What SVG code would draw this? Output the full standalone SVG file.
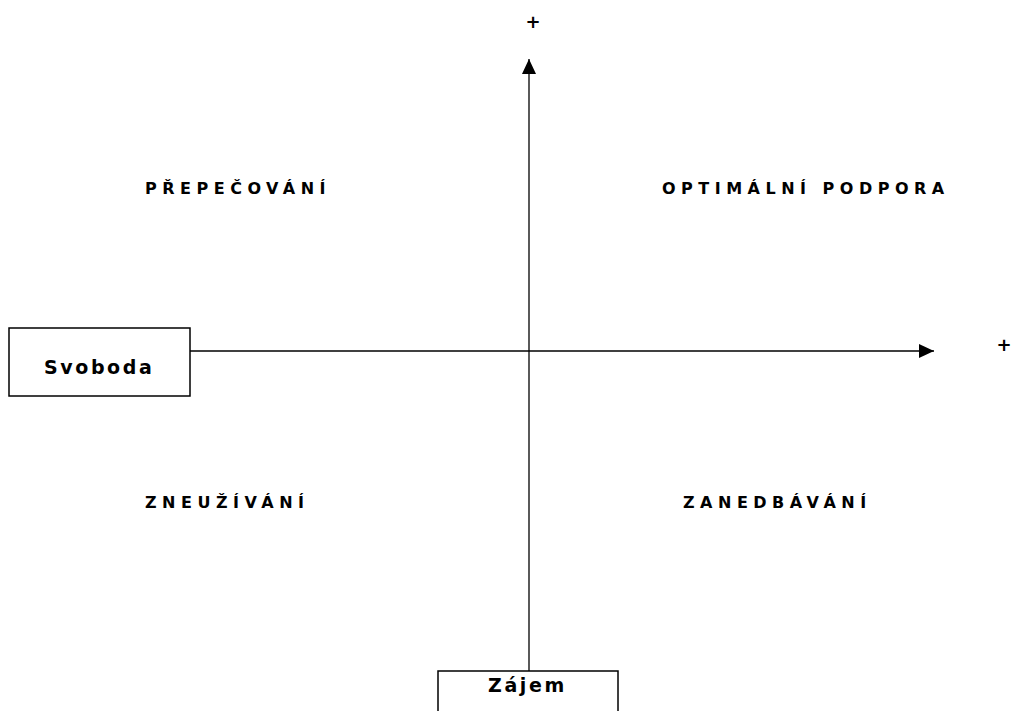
<svg xmlns="http://www.w3.org/2000/svg" width="1013" height="711" viewBox="0 0 1013 711">
<style>
text{font-family:"DejaVu Sans",Verdana,sans-serif;font-weight:bold;fill:#000}
.q{font-size:16px;letter-spacing:5.5px}
.b{font-size:19px;letter-spacing:2.6px}
.p{font-size:18px}
.box{fill:#fff;stroke:#000;stroke-width:1.5}
.ax{stroke:#000;stroke-width:1.3;fill:none}
</style>
<defs>
<marker id="ah" viewBox="0 0 10 10" refX="10" refY="5" markerWidth="15" markerHeight="14" markerUnits="userSpaceOnUse" orient="auto" preserveAspectRatio="none">
<path d="M0,0 L10,5 L0,10 Z" fill="#000"/>
</marker>
</defs>
<g id="connectors">
<line class="ax" x1="529" y1="671" x2="529" y2="59" marker-end="url(#ah)"/>
<line class="ax" x1="190" y1="351" x2="934" y2="351" marker-end="url(#ah)"/>
</g>
<g id="svoboda">
<rect class="box" x="9" y="328" width="181" height="68"/>
<text class="b" x="44" y="374">Svoboda</text>
</g>
<g id="zajem">
<rect class="box" x="438" y="671" width="180" height="45"/>
<text class="b" x="488" y="692">Zájem</text>
</g>
<g id="labels">
<text class="p" x="533" y="28" text-anchor="middle">+</text>
<text class="p" x="1004" y="351" text-anchor="middle">+</text>
<text class="q" x="145" y="194">PŘEPEČOVÁNÍ</text>
<text class="q" x="662" y="194">OPTIMÁLNÍ PODPORA</text>
<text class="q" x="145" y="508">ZNEUŽÍVÁNÍ</text>
<text class="q" x="683" y="508">ZANEDBÁVÁNÍ</text>
</g>
</svg>
